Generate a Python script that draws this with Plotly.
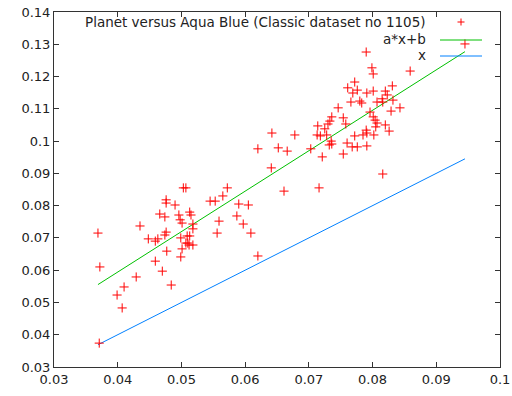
import plotly.graph_objects as go

# Planet (x) vs Aqua Blue (y) measurements
planet = [
    0.0369, 0.0372, 0.0371, 0.0399, 0.0410, 0.0407, 0.0429, 0.0435, 0.0448, 0.0459,
    0.0463, 0.0459, 0.0470, 0.0466, 0.0474, 0.0476, 0.0476, 0.0476, 0.0474, 0.0477,
    0.0484, 0.0490, 0.0496, 0.0498, 0.0501, 0.0499, 0.0501, 0.0499, 0.0503, 0.0507,
    0.0507, 0.0510, 0.0509, 0.0513, 0.0513, 0.0515, 0.0518, 0.0518, 0.0512, 0.0518,
    0.0545, 0.0553, 0.0559, 0.0556, 0.0565, 0.0572, 0.0590, 0.0587, 0.0597, 0.0605,
    0.0609, 0.0620,
    0.0945, 0.0790, 0.0799, 0.0801, 0.0859, 0.0772, 0.0761, 0.0776, 0.0769, 0.0791,
    0.0801, 0.0820, 0.0823, 0.0831, 0.0766, 0.0780, 0.0783, 0.0807, 0.0815, 0.0816,
    0.0832, 0.0746, 0.0843, 0.0829, 0.0796, 0.0801, 0.0804, 0.0807, 0.0805, 0.0820,
    0.0826, 0.0790, 0.0791, 0.0802, 0.0785, 0.0772, 0.0754, 0.0736, 0.0733, 0.0730,
    0.0714, 0.0725, 0.0758, 0.0642, 0.0678, 0.0713, 0.0718, 0.0728, 0.0735, 0.0736,
    0.0732, 0.0760, 0.0768, 0.0776, 0.0791, 0.0620, 0.0652, 0.0666, 0.0703, 0.0721,
    0.0754, 0.0641, 0.0661, 0.0716, 0.0816,
]
aqua_blue = [
    0.0715, 0.0610, 0.0374, 0.0523, 0.0548, 0.0483, 0.0579, 0.0737, 0.0697, 0.0690,
    0.0697, 0.0628, 0.0597, 0.0774, 0.0765, 0.0818, 0.0808, 0.0718, 0.0709, 0.0659,
    0.0554, 0.0802, 0.0771, 0.0756, 0.0746, 0.0700, 0.0666, 0.0641, 0.0855, 0.0855,
    0.0684, 0.0684, 0.0706, 0.0706, 0.0780, 0.0771, 0.0743, 0.0728, 0.0678, 0.0678,
    0.0814, 0.0814, 0.0752, 0.0715, 0.0830, 0.0855, 0.0805, 0.0768, 0.0743, 0.0802,
    0.0715, 0.0644,
    0.1301, 0.1276, 0.1227, 0.1208, 0.1217, 0.1183, 0.1165, 0.1158, 0.1149, 0.1149,
    0.1155, 0.1155, 0.1143, 0.1171, 0.1121, 0.1124, 0.1118, 0.1121, 0.1131, 0.1121,
    0.1127, 0.1103, 0.1103, 0.1093, 0.1090, 0.1075, 0.1065, 0.1056, 0.1044, 0.1050,
    0.1031, 0.1034, 0.1025, 0.1019, 0.1019, 0.1016, 0.1072, 0.1075, 0.1062, 0.1053,
    0.1047, 0.1038, 0.1053, 0.1025, 0.1019, 0.1019, 0.1016, 0.1019, 0.1000, 0.0991,
    0.0988, 0.0994, 0.0982, 0.0982, 0.0985, 0.0976, 0.0979, 0.0969, 0.0976, 0.0951,
    0.0960, 0.0917, 0.0845, 0.0855, 0.0898,
]

# Fitted line a*x+b
fit_a = 1.253
fit_b = 0.0093

x_ticks = [0.03, 0.04, 0.05, 0.06, 0.07, 0.08, 0.09, 0.1]
x_tick_labels = ["0.03", "0.04", "0.05", "0.06", "0.07", "0.08", "0.09", "0.1"]
y_ticks = [0.03, 0.04, 0.05, 0.06, 0.07, 0.08, 0.09, 0.1, 0.11, 0.12, 0.13, 0.14]
y_tick_labels = ["0.03", "0.04", "0.05", "0.06", "0.07", "0.08", "0.09", "0.1",
                 "0.11", "0.12", "0.13", "0.14"]

legend_labels = ["Planet versus Aqua Blue (Classic dataset no 1105)", "a*x+b", "x"]

RED = "#ff0000"
GREEN = "#00c000"
BLUE = "#0080ff"
FONT = "DejaVu Sans"

x_lo, x_hi = min(planet), max(planet)

fig = go.Figure()
fig.add_trace(go.Scatter(
    x=[x_lo, x_hi], y=[x_lo, x_hi], mode="lines",
    line=dict(color=BLUE, width=1), hoverinfo="skip"))
fig.add_trace(go.Scatter(
    x=[x_lo, x_hi], y=[fit_a * x_lo + fit_b, fit_a * x_hi + fit_b], mode="lines",
    line=dict(color=GREEN, width=1), hoverinfo="skip"))
fig.add_trace(go.Scatter(
    x=planet, y=aqua_blue, mode="markers",
    marker=dict(symbol="cross-thin", size=6.5, line=dict(color=RED, width=1), color=RED)))

# Key in the upper-right: text right-aligned, sample to its right
W, H = 512, 396
ml, mr, mt, mb = 54, 12, 12, 29
pw, ph = W - ml - mr, H - mt - mb


def px(xp):
    return (xp - ml) / pw


def py(yp):
    return (H - mb - yp) / ph


rows_y = [22, 39, 55]
annotations = []
for label, ry in zip(legend_labels, rows_y):
    annotations.append(dict(
        x=px(428), y=py(ry), xref="paper", yref="paper", text=label,
        showarrow=False, xanchor="right", yanchor="middle",
        font=dict(family=FONT, size=13.5, color="#222222")))

shapes = [
    dict(type="line", xref="paper", yref="paper", x0=px(457.5), x1=px(464.5),
         y0=py(rows_y[0]), y1=py(rows_y[0]), line=dict(color=RED, width=1)),
    dict(type="line", xref="paper", yref="paper", x0=px(461), x1=px(461),
         y0=py(rows_y[0] - 3.5), y1=py(rows_y[0] + 3.5), line=dict(color=RED, width=1)),
    dict(type="line", xref="paper", yref="paper", x0=px(440), x1=px(482),
         y0=py(rows_y[1] + 1), y1=py(rows_y[1] + 1), line=dict(color=GREEN, width=1)),
    dict(type="line", xref="paper", yref="paper", x0=px(440), x1=px(482),
         y0=py(rows_y[2] + 1), y1=py(rows_y[2] + 1), line=dict(color=BLUE, width=1)),
]

axis_common = dict(
    showgrid=False, zeroline=False, showline=True, linecolor="#333333", linewidth=1,
    mirror="ticks", ticks="inside", ticklen=5, tickcolor="#333333", automargin=False,
    tickfont=dict(family=FONT, size=13, color="#222222"))

fig.update_layout(
    width=W, height=H, margin=dict(l=ml, r=mr, t=mt, b=mb, autoexpand=False),
    paper_bgcolor="white", plot_bgcolor="white", showlegend=False,
    xaxis=dict(range=[0.03, 0.1], tickvals=x_ticks, ticktext=x_tick_labels, **axis_common),
    yaxis=dict(range=[0.03, 0.14], tickvals=y_ticks, ticktext=y_tick_labels, **axis_common),
    annotations=annotations, shapes=shapes)

fig.write_html("out.html")
